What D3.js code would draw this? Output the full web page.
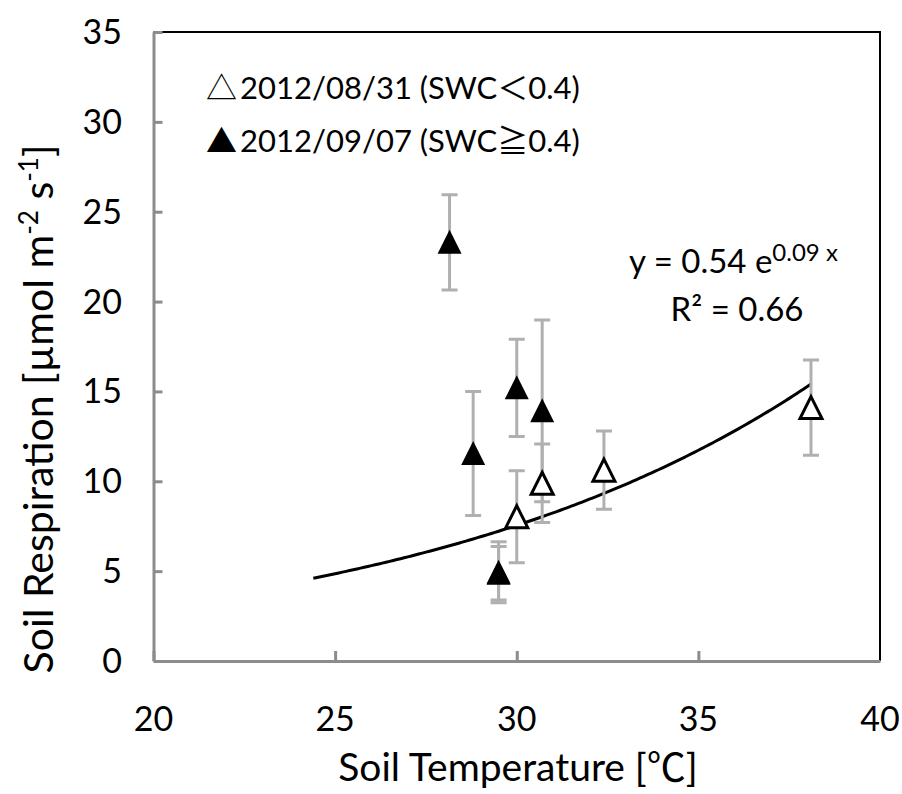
<!DOCTYPE html>
<html>
<head>
<meta charset="utf-8">
<script src="https://cdn.jsdelivr.net/npm/d3@7/dist/d3.min.js"></script>
<style>
  html, body { margin: 0; padding: 0; background: #fff; }
  svg { display: block; }
  text { font-family: Lato, "Noto Sans", sans-serif; fill: #000; }
  .cjk { font-family: "Noto Sans CJK JP", "Noto Sans CJK SC", sans-serif; }
</style>
</head>
<body>
<svg id="chart" width="902" height="794"></svg>
<script>
// Soil temperature (°C), respiration (µmol m-2 s-1) and its ± error, per sampling date
const dryX   = [30.0, 30.7, 32.4, 38.1];
const dryY   = [8.03, 9.89, 10.62, 14.1];
const dryErr = [2.56, 2.19, 2.18, 2.65];

const wetX   = [28.15, 28.8, 29.5, 29.5, 30.0, 30.7];
const wetY   = [23.3, 11.55, 4.94, 4.88, 15.2, 13.92];
const wetErr = [2.65, 3.45, 1.70, 1.49, 2.71, 5.06];

// Exponential fit  y = a·e^(b·x) over the fitted temperature range
const fitA = 0.537;
const fitB = 0.0881;
const fitRange = [24.4, 38.1];

const xTicks = [20, 25, 30, 35, 40];
const yTicks = [0, 5, 10, 15, 20, 25, 30, 35];

const legendLabels = ["2012/08/31 (SWC", "2012/09/07 (SWC"];
const legendRel = ["＜", "≧"];
const legendTail = "0.4)";

const svg = d3.select("#chart");
const L = 153.5, R = 880, T = 32, B = 661;

const x = d3.scaleLinear().domain([20, 40]).range([L, R]);
const y = d3.scaleLinear().domain([0, 35]).range([B, T]);

const axisGrey = "#8c8c8c";
const errGrey = "#b0b0b0";

// plot frame: black top and right edges
svg.append("path")
  .attr("d", `M${L},${T}H${R}V${B}`)
  .attr("fill", "none").attr("stroke", "#000").attr("stroke-width", 2);

// y axis with inward ticks
const yAxis = d3.axisRight(y).tickValues(yTicks).tickSize(9).tickFormat("").tickSizeOuter(0);
const gy = svg.append("g").attr("transform", `translate(${L},0)`).call(yAxis);
gy.select(".domain").attr("stroke", axisGrey).attr("stroke-width", 3);
gy.selectAll(".tick line").attr("stroke", axisGrey).attr("stroke-width", 3);

// x axis with inward ticks
const xAxis = d3.axisTop(x).tickValues(xTicks.slice(0, -1)).tickSize(10).tickFormat("").tickSizeOuter(0);
const gx = svg.append("g").attr("transform", `translate(0,${B})`).call(xAxis);
gx.select(".domain").attr("stroke", axisGrey).attr("stroke-width", 3);
gx.selectAll(".tick line").attr("stroke", axisGrey).attr("stroke-width", 3);

// tick labels
svg.append("g").selectAll("text").data(yTicks).join("text")
  .attr("x", 122).attr("y", d => y(d) + 12)
  .attr("text-anchor", "end").attr("font-size", 34)
  .text(d => d);

svg.append("g").selectAll("text").data(xTicks).join("text")
  .attr("x", d => x(d)).attr("y", 731)
  .attr("text-anchor", "middle").attr("font-size", 34)
  .text(d => d);

// axis titles
const xt = svg.append("text").attr("x", 518).attr("y", 781)
  .attr("text-anchor", "middle").attr("font-size", 39);
xt.append("tspan").text("Soil Temperature [");
xt.append("tspan").attr("class", "cjk").text("℃");
xt.append("tspan").text("]");

const yt = svg.append("text")
  .attr("transform", "translate(53,409) rotate(-90)")
  .attr("text-anchor", "middle").attr("font-size", 41);
yt.append("tspan").text("Soil Respiration [µmol m");
yt.append("tspan").attr("font-size", 26).attr("dy", -15).text("-2");
yt.append("tspan").attr("dy", 15).text(" s");
yt.append("tspan").attr("font-size", 26).attr("dy", -15).text("-1");
yt.append("tspan").attr("dy", 15).text("]");

// fitted curve
const curvePts = d3.range(fitRange[0], fitRange[1] + 1e-9, 0.1).map(t => [t, fitA * Math.exp(fitB * t)]);
svg.append("path")
  .datum(curvePts)
  .attr("d", d3.line().x(d => x(d[0])).y(d => y(d[1])))
  .attr("fill", "none").attr("stroke", "#000").attr("stroke-width", 3);

// error bars
function errorBars(xs, ys, es) {
  const g = svg.append("g").attr("stroke", errGrey).attr("stroke-width", 3).attr("fill", "none");
  xs.forEach((xv, i) => {
    const cx = x(xv), lo = y(ys[i] - es[i]), hi = y(ys[i] + es[i]);
    g.append("path").attr("d", `M${cx},${lo}V${hi}M${cx - 8},${lo}H${cx + 8}M${cx - 8},${hi}H${cx + 8}`);
  });
}
errorBars(dryX, dryY, dryErr);
errorBars(wetX, wetY, wetErr);

// triangle markers centred on the data points
svg.append("g").selectAll("path").data(wetX).join("path")
  .attr("transform", (d, i) => `translate(${x(d)},${y(wetY[i])})`)
  .attr("d", "M0,-12.5L12,11.5L-12,11.5Z").attr("fill", "#000");
svg.append("g").selectAll("path").data(dryX).join("path")
  .attr("transform", (d, i) => `translate(${x(d)},${y(dryY[i])})`)
  .attr("d", "M0,-11L11,11L-11,11Z").attr("fill", "#fff").attr("stroke", "#000").attr("stroke-width", 3);

// legend
const legendSym = ["△", "▲"];
legendLabels.forEach((lab, i) => {
  const t = svg.append("text").attr("x", 206).attr("y", 99 + i * 53).attr("font-size", 31);
  t.append("tspan").attr("class", "cjk").text(legendSym[i]);
  t.append("tspan").attr("dx", 3).text(lab);
  t.append("tspan").attr("class", "cjk").text(legendRel[i]);
  t.append("tspan").text(legendTail);
});

// equation and R²
const eq = svg.append("text").attr("x", 629).attr("y", 273).attr("font-size", 33);
eq.append("tspan").text("y = 0.54 e");
eq.append("tspan").attr("font-size", 24).attr("dy", -12).text("0.09 x");
const r2 = svg.append("text").attr("x", 737).attr("y", 321).attr("text-anchor", "middle").attr("font-size", 33);
r2.text("R² = 0.66");
</script>
</body>
</html>
